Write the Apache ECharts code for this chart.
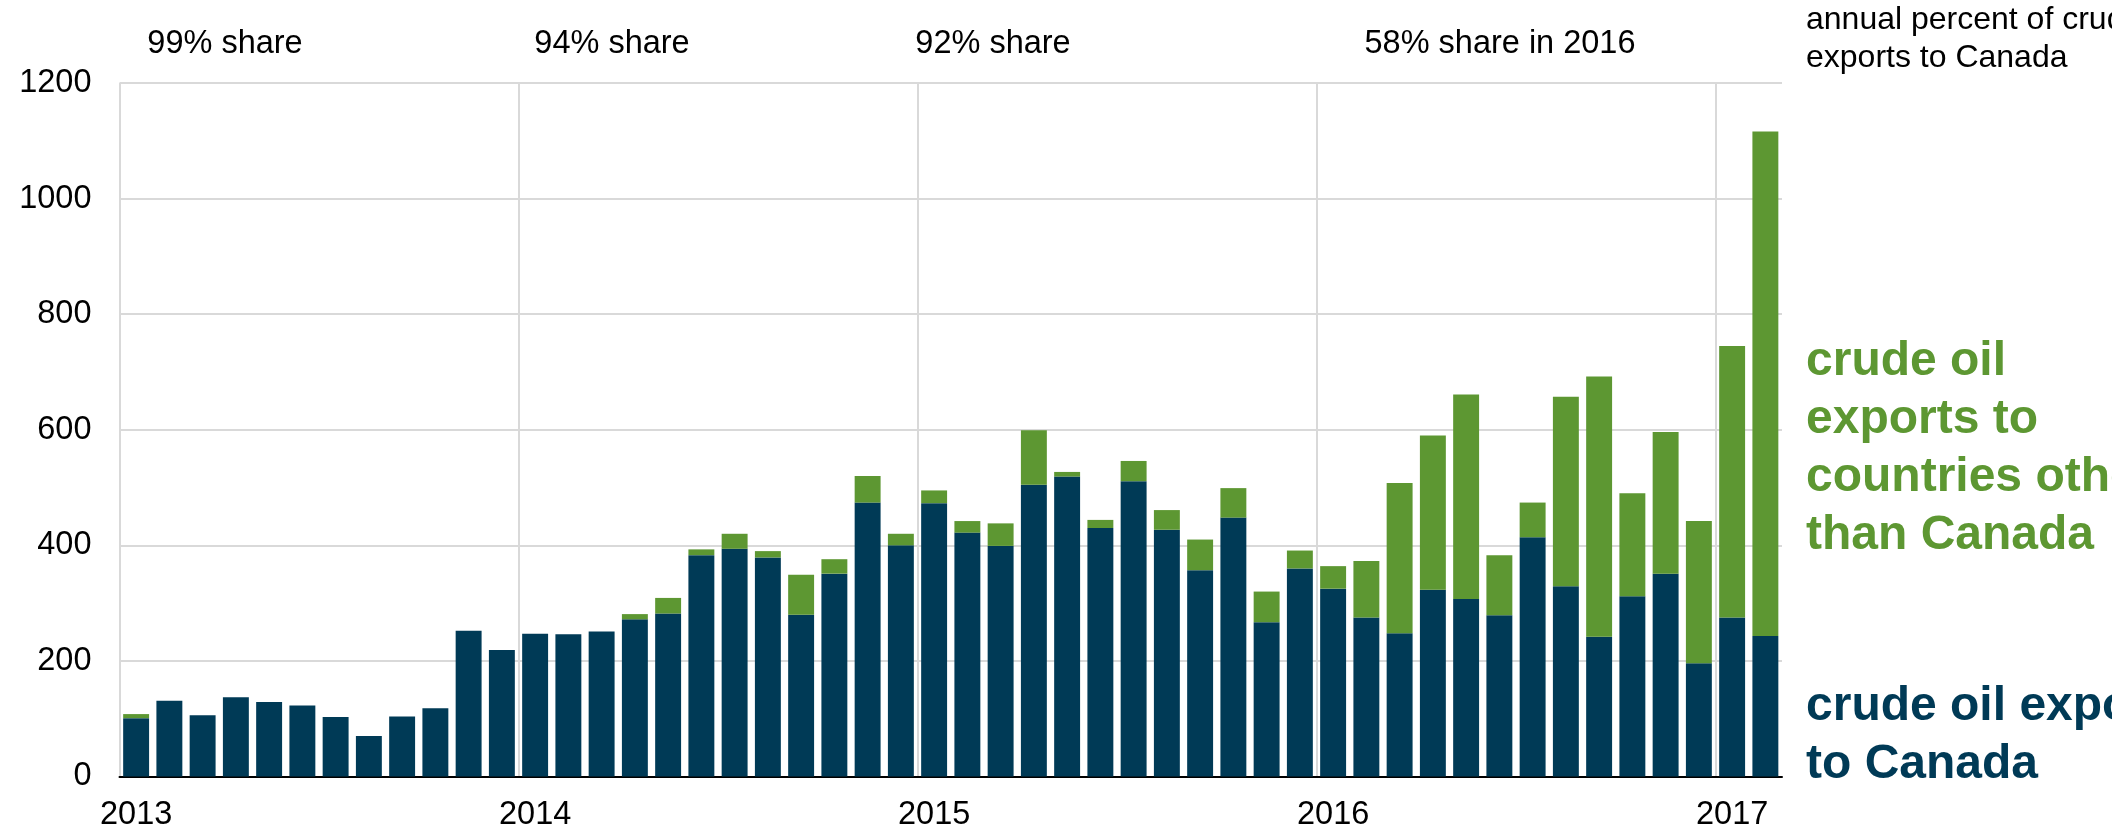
<!DOCTYPE html>
<html>
<head>
<meta charset="utf-8">
<script src="https://cdn.jsdelivr.net/npm/echarts@6/dist/echarts.min.js"></script>
<style>
  body { margin: 0; background: #fff; }
  #chart { width: 2112px; height: 830px; }
</style>
</head>
<body>
<div id="chart"></div>
<script>
const months = [
  '2013-01','2013-02','2013-03','2013-04','2013-05','2013-06','2013-07','2013-08','2013-09','2013-10','2013-11','2013-12',
  '2014-01','2014-02','2014-03','2014-04','2014-05','2014-06','2014-07','2014-08','2014-09','2014-10','2014-11','2014-12',
  '2015-01','2015-02','2015-03','2015-04','2015-05','2015-06','2015-07','2015-08','2015-09','2015-10','2015-11','2015-12',
  '2016-01','2016-02','2016-03','2016-04','2016-05','2016-06','2016-07','2016-08','2016-09','2016-10','2016-11','2016-12',
  '2017-01','2017-02'
]

// crude oil exports to Canada
const toCanada = [
  101, 131, 106, 137, 129, 123, 103, 70, 104, 118, 252, 219,
  247, 246, 251, 272, 282, 383, 394, 379, 280, 351, 474, 400,
  473, 422, 399, 505, 519, 430, 511, 427, 357, 448, 267, 360,
  325, 275, 248, 323, 307, 279, 414, 329, 242, 312, 351, 196,
  275, 243
]

// crude oil exports to countries other than Canada
const toOthers = [
  7, 0, 0, 0, 0, 0, 0, 0, 0, 0, 0, 0,
  0, 0, 0, 9, 27, 10, 26, 11, 69, 25, 46, 20,
  22, 20, 39, 94, 8, 14, 35, 34, 53, 51, 53, 31,
  39, 98, 260, 267, 354, 104, 60, 328, 450, 178, 245, 246,
  470, 873
]

const yTicks = [0, 200, 400, 600, 800, 1000, 1200]
const shareNotes = ['99% share', '94% share', '92% share', '58% share in 2016']

const navy = '#003a56'
const green = '#5d9732'
const grey = '#d9d9d9'
const font = "'Liberation Sans', Arial, sans-serif"

let chart = echarts.init(document.getElementById('chart'))

const notePos = [225, 612, 993, 1500]
const textItems = shareNotes.map((t, i) => ({
  type: 'text',
  x: notePos[i],
  y: 44,
  style: { text: t, fill: '#000', fontSize: 32.5, fontFamily: font, align: 'center', verticalAlign: 'middle' },
}))

const sideText = (lines, ys, size, weight, color) =>
  lines.map((t, i) => ({
    type: 'text',
    x: 1806,
    y: ys[i],
    style: { text: t, fill: color, fontSize: size, fontWeight: weight, fontFamily: font, align: 'left', verticalAlign: 'middle' },
  }))

chart.setOption({
  animation: false,
  grid: { left: 119.5, right: 330, top: 83, bottom: 53.5, outerBoundsMode: 'none' },
  xAxis: {
    type: 'category',
    data: months,
    axisLine: { lineStyle: { color: '#000', width: 2 } },
    axisTick: { show: false },
    axisLabel: {
      interval: (i) => i % 12 === 0,
      formatter: (v) => v.slice(0, 4),
      color: '#000',
      fontSize: 32.5,
      fontFamily: font,
      margin: 22,
    },
    splitLine: {
      show: true,
      interval: (i) => i % 12 === 0,
      // no line on the right edge of the plot
      lineStyle: { color: [grey, grey, grey, grey, grey, 'rgba(0,0,0,0)'], width: 2 },
    },
  },
  yAxis: {
    type: 'value',
    min: yTicks[0],
    max: yTicks[yTicks.length - 1],
    interval: yTicks[1] - yTicks[0],
    axisLine: { show: false },
    axisTick: { show: false },
    axisLabel: { color: '#000', fontSize: 32.5, fontFamily: font, margin: 28, formatter: (v) => String(v) },
    splitLine: { lineStyle: { color: grey, width: 2 } },
  },
  series: [
    {
      name: 'crude oil exports to Canada',
      type: 'bar',
      stack: 'exports',
      data: toCanada,
      barCategoryGap: '22%',
      itemStyle: { color: navy },
    },
    {
      name: 'crude oil exports to countries other than Canada',
      type: 'bar',
      stack: 'exports',
      data: toOthers,
      barCategoryGap: '22%',
      itemStyle: { color: green },
    },
  ],
  graphic: [
    ...textItems,
    ...sideText(['annual percent of crude oil', 'exports to Canada'], [20, 58], 32, 'normal', '#000'),
    ...sideText(['crude oil', 'exports to', 'countries other', 'than Canada'], [362, 420, 478, 536], 48, 'bold', green),
    ...sideText(['crude oil exports', 'to Canada'], [707, 765], 48, 'bold', navy),
  ],
})
</script>
</body>
</html>
